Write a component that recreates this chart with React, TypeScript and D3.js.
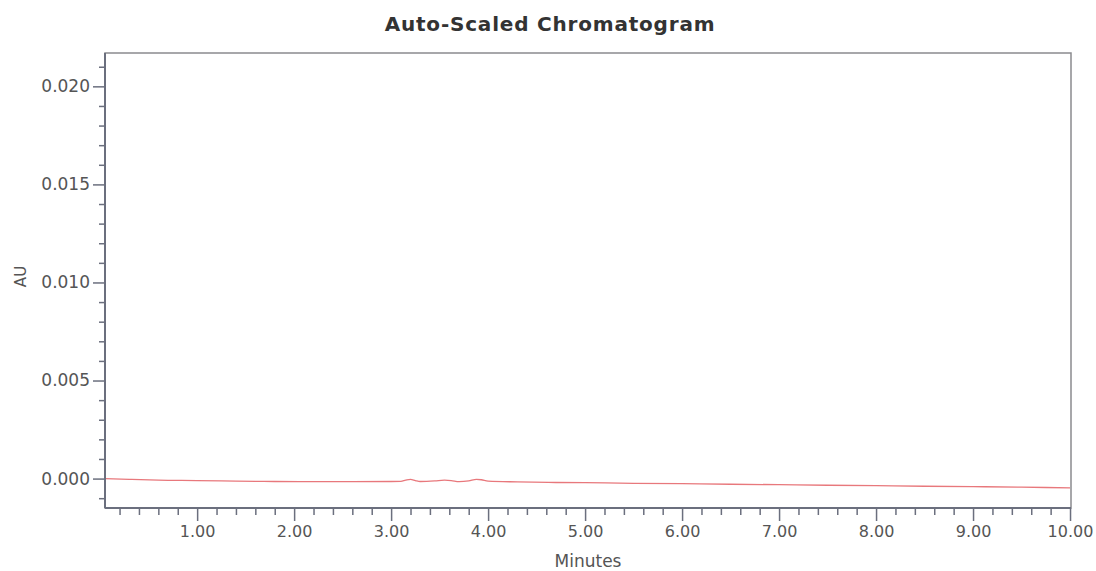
import React, { useRef, useEffect } from 'react';
import * as d3 from 'd3';

// retention time (min) and absorbance (AU)
const times = [0.05, 0.3, 0.6, 1.0, 1.4, 1.8, 2.2, 2.6, 3.0, 3.1, 3.15, 3.2, 3.25, 3.3, 3.45, 3.55, 3.62, 3.7, 3.8, 3.88, 3.93, 4.0, 4.3, 4.7, 5.0, 5.5, 6.0, 6.5, 7.0, 7.5, 8.0, 8.5, 9.0, 9.5, 10.0];
const absorbance = [0.0, -0.00004, -0.00008, -0.0001, -0.00013, -0.00015, -0.00016, -0.00016, -0.00015, -0.00014, -0.00008, -0.00004, -0.0001, -0.00015, -0.00012, -0.00008, -0.0001, -0.00016, -0.00012, -0.00004, -0.00006, -0.00013, -0.00017, -0.0002, -0.00021, -0.00024, -0.00026, -0.00029, -0.00031, -0.00034, -0.00036, -0.00039, -0.00041, -0.00044, -0.00047];

const xMajor = [1, 2, 3, 4, 5, 6, 7, 8, 9, 10];
const yMajor = [0, 0.005, 0.01, 0.015, 0.02];

const W = 1096;
const H = 571;
const box = { left: 105, top: 53, right: 1071, bottom: 508 };
const axisColor = '#6b6f7e';
const textColor = '#555';
const font = '"DejaVu Sans", Arial, sans-serif';

export default function App() {
  const svgRef = useRef<SVGSVGElement>(null);

  useEffect(() => {
    if (!svgRef.current) return;
    const svg = d3.select(svgRef.current);
    svg.selectAll('*').remove();

    const x = d3.scaleLinear().domain([0.05, 10.01]).range([box.left, box.right]);
    const y = d3.scaleLinear().domain([-0.0015, 0.0217]).range([box.bottom, box.top]);

    // frame
    svg.append('rect')
      .attr('x', box.left).attr('y', box.top)
      .attr('width', box.right - box.left).attr('height', box.bottom - box.top)
      .attr('fill', 'none').attr('stroke', '#8a8a8e').attr('stroke-width', 1.5);

    // trace
    const pts = times.map((t, i) => [t, absorbance[i]] as [number, number]);
    svg.append('path')
      .datum(pts)
      .attr('fill', 'none')
      .attr('stroke', '#e8787c')
      .attr('stroke-width', 1.3)
      .attr('d', d3.line<[number, number]>().x(d => x(d[0])).y(d => y(d[1])).curve(d3.curveMonotoneX));

    const styleAxis = (size: number) => (g: d3.Selection<SVGGElement, unknown, null, undefined>) => {
      g.select('.domain').remove();
      g.selectAll('line').attr('stroke', axisColor).attr('stroke-width', 1.5);
      g.selectAll('text')
        .attr('fill', textColor)
        .style('font-family', font)
        .style('font-size', `${size}px`);
    };

    // x minor ticks every 0.2 min
    const xMinor = d3.range(2, 101, 2).map(v => v / 10).filter(v => !xMajor.includes(v));
    svg.append('g')
      .attr('transform', `translate(0,${box.bottom})`)
      .call(d3.axisBottom(x).tickValues(xMinor).tickSize(7).tickFormat(() => ''))
      .call(styleAxis(16));
    svg.append('g')
      .attr('transform', `translate(0,${box.bottom})`)
      .call(d3.axisBottom(x).tickValues(xMajor).tickSize(13).tickPadding(5).tickFormat(d3.format('.2f')))
      .call(styleAxis(16));

    // y minor ticks every 0.001
    const yMinor = d3.range(-1, 22).map(v => v / 1000).filter(v => !yMajor.some(m => Math.abs(m - v) < 1e-9));
    svg.append('g')
      .attr('transform', `translate(${box.left},0)`)
      .call(d3.axisLeft(y).tickValues(yMinor).tickSize(6).tickFormat(() => ''))
      .call(styleAxis(17));
    svg.append('g')
      .attr('transform', `translate(${box.left},0)`)
      .call(d3.axisLeft(y).tickValues(yMajor).tickSize(12).tickPadding(3).tickFormat(d3.format('.3f')))
      .call(styleAxis(17));

    // axis lines (left and bottom drawn darker)
    svg.append('line')
      .attr('x1', box.left).attr('x2', box.left).attr('y1', box.top).attr('y2', box.bottom)
      .attr('stroke', axisColor).attr('stroke-width', 2);
    svg.append('line')
      .attr('x1', box.left).attr('x2', box.right).attr('y1', box.bottom).attr('y2', box.bottom)
      .attr('stroke', axisColor).attr('stroke-width', 2);

    // titles
    svg.append('text')
      .attr('x', 550).attr('y', 31)
      .attr('text-anchor', 'middle')
      .attr('fill', '#333')
      .style('font-family', font)
      .style('font-weight', 'bold')
      .style('font-size', '20px')
      .style('letter-spacing', '0.8px')
      .text('Auto-Scaled Chromatogram');

    svg.append('text')
      .attr('transform', `translate(26,${(box.top + box.bottom) / 2 - 4}) rotate(-90)`)
      .attr('text-anchor', 'middle')
      .attr('fill', textColor)
      .style('font-family', font)
      .style('font-size', '15px')
      .text('AU');

    svg.append('text')
      .attr('x', (box.left + box.right) / 2).attr('y', 567)
      .attr('text-anchor', 'middle')
      .attr('fill', textColor)
      .style('font-family', font)
      .style('font-size', '17px')
      .text('Minutes');
  }, []);

  return (
    <svg
      ref={svgRef}
      width={W}
      height={H}
      style={{ position: 'absolute', left: 0, top: 0, background: '#fff' }}
    />
  );
}
